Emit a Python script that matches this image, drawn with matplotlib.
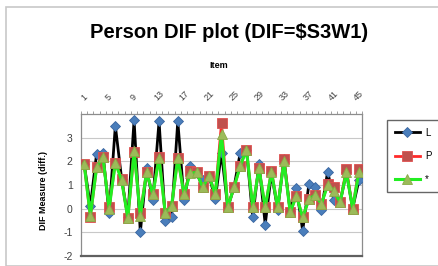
import matplotlib
matplotlib.use("Agg")
import matplotlib.pyplot as plt
import matplotlib.patches as patches
import numpy as np

plt.rcParams['font.family'] = ['Liberation Sans', 'DejaVu Sans']

items = list(range(1, 46))
L_vals = [1.9, 0.1, 2.33, 2.37, -0.2, 3.5, 1.27, -0.35, 3.74, -1.0,
          1.7, 0.35, 3.7, -0.5, -0.35, 3.7, 0.35, 1.8, 1.5, 1.2,
          1.4, 0.4, 2.37, 0.05, 0.9, 2.37, 2.5, -0.37, 1.9, -0.67,
          1.5, -0.05, 2.1, -0.1, 0.87, -0.93, 1.04, 0.9, -0.05, 1.57,
          0.35, 0.27, 1.55, 0.0, 1.2]
P_vals = [1.9, -0.35, 1.75, 2.2, 0.05, 1.95, 1.27, -0.4, 2.4, -0.2,
          1.55, 0.6, 2.2, -0.2, 0.1, 2.15, 0.6, 1.6, 1.53, 0.9,
          1.4, 0.6, 3.6, 0.05, 0.9, 1.8, 2.5, 0.05, 1.7, 0.05,
          1.6, 0.05, 2.1, -0.15, 0.55, -0.37, 0.4, 0.58, 0.2, 1.05,
          0.9, 0.27, 1.67, 0.0, 1.67]
S_vals = [1.9, -0.3, 1.75, 2.2, 0.0, 1.95, 1.2, -0.4, 2.45, -0.3,
          1.55, 0.6, 2.15, -0.2, 0.1, 2.15, 0.6, 1.5, 1.53, 0.9,
          1.4, 0.6, 3.15, 0.05, 0.9, 1.8, 2.5, 0.05, 1.7, 0.05,
          1.55, 0.05, 2.0, -0.15, 0.55, -0.37, 0.4, 0.58, 0.2, 1.0,
          0.75, 0.27, 1.55, 0.0, 1.55]
series_names = ["L", "P", "*"]
label_items = list(range(1, 46, 4))
y_ticks = [-2, -1, 0, 1, 2, 3]

W, H = 439, 266
fig = plt.figure(figsize=(W / 100, H / 100), dpi=100)

# chart frame
fig.patches.append(patches.Rectangle((6 / W, 0), 1.0, (H - 7) / H, transform=fig.transFigure,
                                     fill=False, edgecolor='#c8c8c8', linewidth=1.2))

ax = fig.add_axes([81 / W, 10 / H, 281 / W, 142 / H])

ax.plot(items, L_vals, color='black', linewidth=2.0, marker='D', markersize=5.5,
        markerfacecolor='#4a7ebb', markeredgecolor='#3a66a0', markeredgewidth=0.6,
        label=series_names[0], zorder=3)
ax.plot(items, P_vals, color='#ff2a2a', linewidth=2.0, marker='s', markersize=6.5,
        markerfacecolor='#c0504d', markeredgecolor='#e05050', markeredgewidth=0.6,
        label=series_names[1], zorder=4)
ax.plot(items, S_vals, color='#22ee22', linewidth=2.2, marker='^', markersize=6.5,
        markerfacecolor='#9bbb59', markeredgecolor='#8aaa48', markeredgewidth=0.6,
        label=series_names[2], zorder=5)

ax.set_xlim(0.5, 45.5)
ax.set_ylim(-2, 4)

ax.xaxis.tick_top()
ax.set_xticks(label_items)
ax.set_xticklabels([str(i) for i in label_items], rotation=45, fontsize=6.5, color='#404040')
ax.set_xticks(np.arange(0.5, 46, 1), minor=True)
ax.tick_params(axis='x', which='major', length=0, pad=8)
ax.tick_params(axis='x', which='minor', length=2.5, width=0.6, color='#909090', direction='out')

ax.set_yticks(y_ticks)
ax.set_yticklabels([str(v) for v in y_ticks], fontsize=7.5, color='#404040')
ax.tick_params(axis='y', length=0, pad=6)

ax.grid(axis='y', color='#c8c8c8', linewidth=0.8)
ax.set_axisbelow(True)
for s in ['left', 'right', 'top']:
    ax.spines[s].set_color('#8c8c8c')
    ax.spines[s].set_linewidth(0.9)
ax.spines['bottom'].set_color('#606060')
ax.spines['bottom'].set_linewidth(1.6)

fig.text(0.522, (H - 32) / H, "Person DIF plot (DIF=$S3W1)", ha='center', va='center',
         fontsize=14.5, fontweight='bold', color='black')
fig.text(0.499, (H - 66) / H, "Item", ha='center', va='center',
         fontsize=6.5, fontweight='bold', color='black')
fig.text(44 / W, (H - 190) / H, "DIF Measure (diff.)", ha='center', va='center',
         rotation=90, fontsize=6.5, fontweight='bold', color='black')

leg = fig.legend(loc='upper left', bbox_to_anchor=(387 / W, (H - 120) / H),
                 fontsize=7, frameon=True, fancybox=False, edgecolor='#404040',
                 handlelength=2.6, handletextpad=0.5, labelspacing=1.35,
                 borderpad=0.8, borderaxespad=0)
leg.get_frame().set_linewidth(1.0)

fig.savefig("out.png", dpi=100)
